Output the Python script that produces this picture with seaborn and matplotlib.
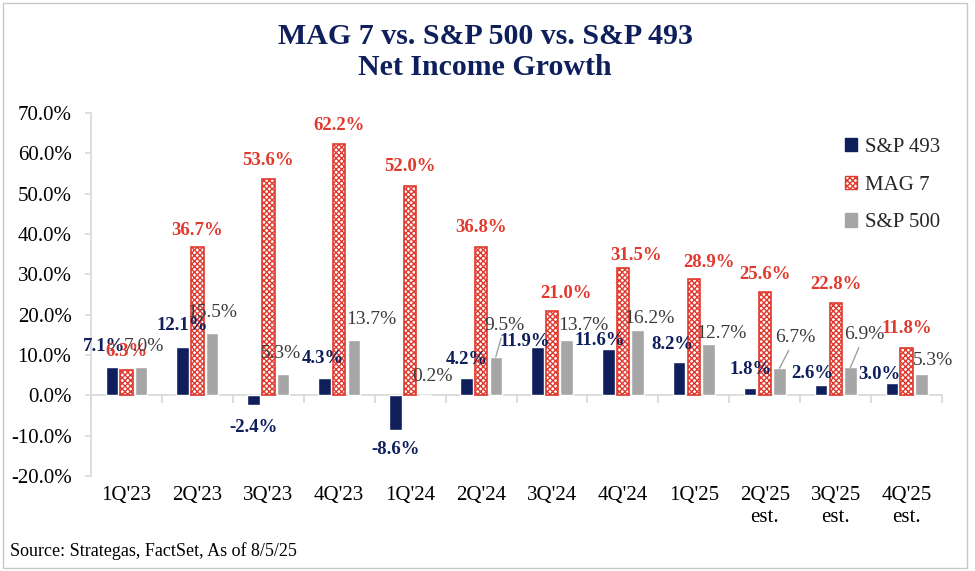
import numpy as np
import pandas as pd
import seaborn as sns
import matplotlib.pyplot as plt
from matplotlib.patches import Patch, Rectangle

# data (net income growth, %)
quarters = ["1Q'23", "2Q'23", "3Q'23", "4Q'23", "1Q'24", "2Q'24", "3Q'24", "4Q'24",
            "1Q'25", "2Q'25\nest.", "3Q'25\nest.", "4Q'25\nest."]
sp493 = [7.1, 12.1, -2.4, 4.3, -8.6, 4.2, 11.9, 11.6, 8.2, 1.8, 2.6, 3.0]
mag7 = [6.3, 36.7, 53.6, 62.2, 52.0, 36.8, 21.0, 31.5, 28.9, 25.6, 22.8, 11.8]
sp500 = [7.0, 15.5, 5.3, 13.7, 0.2, 9.5, 13.7, 16.2, 12.7, 6.7, 6.9, 5.3]
series = ["S&P 493", "MAG 7", "S&P 500"]

NAVY = "#0E1F5B"
RED = "#E03A2F"
GRAY = "#A6A6A6"
AXIS = "#D9D9D9"

df = pd.DataFrame({"quarter": quarters * 3,
                   "series": np.repeat(series, len(quarters)),
                   "value": sp493 + mag7 + sp500})

sns.set_theme(style="white")
plt.rcParams['font.family'] = ['Liberation Serif', 'DejaVu Serif']
plt.rcParams['hatch.linewidth'] = 1.0

fig = plt.figure(figsize=(9.75, 5.71), dpi=100)
ax = fig.add_axes([0.0933, 0.1664, 0.873, 0.6357])

sns.barplot(data=df, x="quarter", y="value", hue="series", hue_order=series,
            palette=[NAVY, RED, GRAY], saturation=1, width=0.62, gap=0.15,
            legend=False, ax=ax)

# MAG 7 bars: white with fine red checker hatch
for p in ax.containers[1]:
    p.set_facecolor("white")
    p.set_edgecolor(RED)
    p.set_hatch("xxxxxx")
    p.set_linewidth(1.2)

ax.set_ylim(-20, 70)
ax.set_xlim(-0.5, 11.5)
ax.set_yticks(np.arange(-20, 71, 10))
ax.set_yticklabels([f"{v:.1f}%" for v in np.arange(-20, 71, 10)])
ax.set_xlabel("")
ax.set_ylabel("")
for s in ["top", "right", "bottom"]:
    ax.spines[s].set_visible(False)
ax.spines["left"].set_color(AXIS)
ax.tick_params(axis="y", left=True, length=4, color=AXIS, pad=10,
               labelsize=15, labelcolor="black")
ax.tick_params(axis="x", length=0, pad=7, labelsize=15, labelcolor="black")

# zero line with category boundary ticks
zero = ax.secondary_xaxis(20 / 90)
zero.set_xticks(np.arange(-0.5, 12, 1))
zero.tick_params(length=6, color=AXIS, labelbottom=False, labeltop=False)
for s in zero.spines.values():
    s.set_color(AXIS)

# per-label nudges (pixels) to mimic the hand-placed labels
navy_dx = [-8, 0, 0, -2, 0, 0, -13, -8, -7, 0, -9, -13]
navy_dy = [20, 21, 22, 19, 19, 19, 6, 8, 18, 19, 11, 9]
red_dx = [0, 0, 0, 0, 0, 0, 14, 13, 15, 0, 0, 0]
red_dy = [18, 17, 19, 19, 19, 19, 17, 13, 16, 18, 19, 19]
gray_dx = [3, 0, -2, 17, 8, 9, 17, 12, 13, 16, 14, 12]
gray_dy = [21, 20, 20, 21, 18, 32, 15, 11, 11, 31, 33, 13]
gray_leaders = [5, 9, 10]


def label_bars(container, values, dxs, dys, color, weight, size, leaders=()):
    for i, (bar, v) in enumerate(zip(container.patches, values)):
        x = bar.get_x() + bar.get_width() / 2
        sign = 1 if v >= 0 else -1
        props = None
        if i in leaders:
            props = dict(arrowstyle="-", color="#A0A0A0", lw=1, shrinkA=1, shrinkB=0)
        ax.annotate(f"{v:.1f}%", xy=(x, v), xytext=(dxs[i], sign * dys[i]),
                    textcoords="offset pixels", ha="center", va="center",
                    color=color, fontsize=size, fontweight=weight,
                    arrowprops=props, zorder=5)


label_bars(ax.containers[0], sp493, navy_dx, navy_dy, NAVY, "bold", 13.5)
label_bars(ax.containers[1], mag7, red_dx, red_dy, RED, "bold", 13.5)
label_bars(ax.containers[2], sp500, gray_dx, gray_dy, "#3C3C3C", "normal", 14,
           leaders=gray_leaders)

handles = [Patch(facecolor=NAVY, edgecolor=NAVY),
           Patch(facecolor="white", edgecolor=RED, hatch="xxxxxx"),
           Patch(facecolor=GRAY, edgecolor=GRAY)]
fig.legend(handles, series, loc="upper left", bbox_to_anchor=(826 / 975, 1 - 119 / 571),
           frameon=False, fontsize=15, handlelength=0.6, handleheight=0.6,
           handletextpad=0.35, labelspacing=0.9)

fig.text(0.4974, 1 - 52 / 571, "MAG 7 vs. S&P 500 vs. S&P 493\nNet Income Growth",
         ha="center", va="center", fontsize=21.5, fontweight="bold", color=NAVY,
         linespacing=1.15)
fig.text(10 / 975, 1 - 551 / 571, "Source: Strategas, FactSet, As of 8/5/25",
         ha="left", va="center", fontsize=13, color="black")

fig.patches.append(Rectangle((3 / 975, 3 / 571), 964 / 975, 565 / 571,
                             transform=fig.transFigure, fill=False,
                             edgecolor="#C8C8C8", lw=1))

fig.savefig("out.png", dpi=100)
